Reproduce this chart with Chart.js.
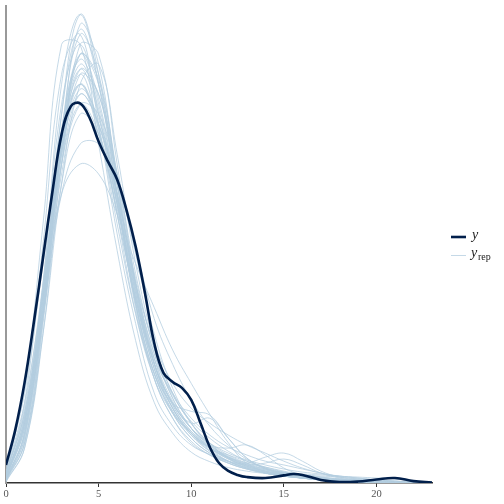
<!DOCTYPE html>
<html>
<head>
<meta charset="utf-8">
<script src="https://cdn.jsdelivr.net/npm/chart.js@4"></script>
<style>
  html, body { margin: 0; padding: 0; background: #fff; }
  canvas { display: block; }
</style>
</head>
<body>
<canvas id="dens" width="504" height="504"></canvas>
<script>
// observed data density (y)
const yX = [0, 0.5, 1, 1.5, 2, 2.5, 3, 3.5, 4, 4.5, 5, 5.5, 6, 6.5, 7, 7.5, 8, 8.5, 9, 9.5, 10, 10.5, 11, 11.5, 12, 12.5, 13, 14, 15, 15.5, 16, 17, 18, 19, 20, 21, 22, 23];
const yDens = [0.0076, 0.0224, 0.0422, 0.0675, 0.0950, 0.1224, 0.1469, 0.1587, 0.1600, 0.1541, 0.1439, 0.1355, 0.1279, 0.1152, 0.0996, 0.0802, 0.0591, 0.0464, 0.0426, 0.0401, 0.0350, 0.0253, 0.0152, 0.0084, 0.0051, 0.0034, 0.0025, 0.0021, 0.0032, 0.0038, 0.0034, 0.0013, 0.0004, 0.0006, 0.0015, 0.0021, 0.0008, 0.0002];

// replicated draws (yrep), all on the same grid
const repX = [0, 1, 2, 3, 4, 5, 6, 7, 8, 9, 10, 11, 12, 13, 14, 15, 16, 17, 18, 19, 20, 21, 22, 23];
const rep01 = [.0021, .0252, .0840, .1680, .1974, .1680, .1218, .0756, .0462, .0294, .0189, .0126, .0084, .0059, .0042, .0029, .0021, .0013, .0008, .0006, .0004, .0002, .0001, .0000];
const rep02 = [.0050, .0336, .0798, .1218, .1344, .1302, .1134, .0924, .0740, .0560, .0420, .0290, .0170, .0084, .0059, .0042, .0029, .0021, .0013, .0008, .0006, .0004, .0002, .0001];
const rep03 = [.0013, .0189, .0714, .1470, .1890, .1722, .1302, .0840, .0504, .0315, .0210, .0139, .0092, .0063, .0042, .0029, .0021, .0013, .0008, .0004, .0002, .0001, .0001, .0000];
const rep04 = [.0017, .0168, .0630, .1260, .1680, .1764, .1386, .0924, .0588, .0378, .0252, .0168, .0105, .0071, .0050, .0034, .0021, .0013, .0008, .0004, .0004, .0002, .0001, .0000];
const rep05 = [.0025, .0273, .0756, .1386, .1680, .1512, .1176, .0798, .0504, .0336, .0252, .0273, .0189, .0105, .0063, .0042, .0025, .0017, .0008, .0004, .0004, .0002, .0001, .0000];
const rep06 = [.0042, .0294, .0798, .1344, .1596, .1470, .1134, .0777, .0525, .0378, .0273, .0202, .0151, .0118, .0092, .0076, .0059, .0042, .0029, .0021, .0013, .0008, .0004, .0002];
const rep07 = [.0008, .0210, .0840, .1596, .1848, .1554, .1134, .0714, .0441, .0294, .0210, .0147, .0105, .0076, .0050, .0034, .0021, .0013, .0008, .0004, .0002, .0001, .0001, .0000];
const rep08 = [.0063, .0378, .0924, .1470, .1680, .1470, .1155, .0819, .0546, .0357, .0231, .0147, .0092, .0063, .0046, .0038, .0034, .0025, .0017, .0008, .0004, .0002, .0001, .0000];
const rep09 = [.0021, .0231, .0735, .1386, .1806, .1680, .1260, .0798, .0483, .0315, .0210, .0147, .0109, .0084, .0067, .0050, .0034, .0021, .0013, .0008, .0006, .0004, .0002, .0001];
const rep10 = [.0029, .0252, .0777, .1449, .1743, .1554, .1176, .0777, .0483, .0315, .0210, .0134, .0092, .0076, .0084, .0101, .0076, .0042, .0021, .0008, .0004, .0002, .0001, .0000];
const rep11 = [.0004, .0147, .0672, .1428, .1932, .1764, .1260, .0756, .0441, .0273, .0168, .0118, .0084, .0059, .0042, .0029, .0021, .0017, .0013, .0008, .0004, .0002, .0001, .0000];
const rep12 = [.0038, .0315, .0840, .1407, .1638, .1512, .1218, .0861, .0567, .0378, .0252, .0168, .0118, .0084, .0059, .0042, .0034, .0029, .0025, .0017, .0013, .0008, .0004, .0002];
const rep13 = [.0017, .0210, .0714, .1344, .1722, .1638, .1302, .0882, .0567, .0357, .0231, .0151, .0101, .0067, .0046, .0034, .0021, .0013, .0008, .0004, .0002, .0001, .0001, .0000];
const rep14 = [.0034, .0336, .1008, .1722, .1890, .1512, .1050, .0672, .0380, .0240, .0160, .0120, .0090, .0067, .0046, .0034, .0025, .0017, .0013, .0008, .0004, .0002, .0001, .0000];
const rep15 = [.0025, .0231, .0714, .1302, .1596, .1554, .1302, .0966, .0630, .0399, .0252, .0160, .0105, .0071, .0050, .0038, .0029, .0021, .0017, .0013, .0008, .0006, .0004, .0002];
const rep16 = [.0013, .0189, .0777, .1554, .1911, .1680, .1218, .0777, .0483, .0302, .0202, .0147, .0118, .0092, .0067, .0046, .0029, .0017, .0008, .0004, .0002, .0001, .0001, .0000];
const rep17 = [.0046, .0294, .0798, .1386, .1659, .1533, .1218, .0840, .0546, .0370, .0260, .0189, .0134, .0092, .0063, .0046, .0038, .0034, .0029, .0021, .0013, .0008, .0004, .0002];
const rep18 = [.0008, .0168, .0693, .1428, .1806, .1701, .1281, .0819, .0504, .0328, .0218, .0147, .0101, .0071, .0050, .0034, .0021, .0013, .0008, .0006, .0004, .0002, .0001, .0000];
const rep19 = [.0021, .0252, .0756, .1344, .1638, .1512, .1218, .0840, .0525, .0328, .0218, .0160, .0147, .0160, .0118, .0063, .0034, .0017, .0008, .0004, .0002, .0001, .0001, .0000];
const rep20 = [.0029, .0273, .0819, .1491, .1785, .1596, .1197, .0798, .0504, .0336, .0231, .0160, .0109, .0076, .0055, .0042, .0034, .0025, .0017, .0013, .0008, .0006, .0004, .0002];
const rep21 = [.0042, .0399, .1092, .1848, .1848, .1428, .0980, .0600, .0340, .0210, .0130, .0090, .0065, .0050, .0040, .0030, .0021, .0013, .0008, .0004, .0002, .0001, .0001, .0000];
const rep22 = [.0025, .0231, .0693, .1260, .1554, .1470, .1176, .0840, .0588, .0420, .0315, .0252, .0202, .0160, .0126, .0092, .0063, .0042, .0025, .0017, .0008, .0004, .0002, .0001];
const rep23 = [.0017, .0210, .0756, .1449, .1764, .1575, .1176, .0756, .0462, .0294, .0189, .0126, .0092, .0084, .0109, .0126, .0092, .0050, .0025, .0013, .0006, .0004, .0002, .0001];
const rep24 = [.0008, .0147, .0630, .1344, .1848, .1806, .1344, .0840, .0504, .0315, .0202, .0134, .0092, .0063, .0042, .0029, .0021, .0013, .0008, .0004, .0002, .0001, .0001, .0000];
const rep25 = [.0034, .0252, .0714, .1218, .1428, .1428, .1260, .0987, .0693, .0500, .0350, .0240, .0160, .0100, .0063, .0042, .0029, .0021, .0013, .0008, .0004, .0002, .0001, .0000];
const rep26 = [.0021, .0252, .0777, .1428, .1722, .1491, .1092, .0714, .0462, .0336, .0302, .0286, .0189, .0105, .0059, .0038, .0025, .0017, .0008, .0004, .0002, .0001, .0001, .0000];
const rep27 = [.0013, .0168, .0714, .1554, .1974, .1722, .1218, .0735, .0441, .0273, .0176, .0118, .0084, .0059, .0042, .0029, .0021, .0017, .0013, .0008, .0004, .0002, .0001, .0000];
const rep28 = [.0038, .0294, .0819, .1428, .1680, .1491, .1134, .0777, .0504, .0336, .0231, .0168, .0126, .0097, .0076, .0059, .0046, .0038, .0029, .0025, .0021, .0017, .0008, .0004];
const rep29 = [.0029, .0273, .0798, .1470, .1806, .1617, .1197, .0756, .0462, .0302, .0210, .0151, .0109, .0076, .0050, .0034, .0025, .0017, .0013, .0008, .0004, .0002, .0001, .0000];
const rep30 = [.0017, .0202, .0735, .1407, .1743, .1638, .1260, .0819, .0525, .0344, .0231, .0160, .0113, .0080, .0055, .0038, .0025, .0017, .0013, .0008, .0006, .0004, .0002, .0001];
const repDraws = [rep01, rep02, rep03, rep04, rep05, rep06, rep07, rep08, rep09, rep10,
                  rep11, rep12, rep13, rep14, rep15, rep16, rep17, rep18, rep19, rep20,
                  rep21, rep22, rep23, rep24, rep25, rep26, rep27, rep28, rep29, rep30];

const xTicks = [0, 5, 10, 15, 20];

const Y_COLOR = '#011f4b';
const YREP_COLOR = 'rgba(179, 205, 224, 0.85)';
const SERIF = '"Liberation Serif", "DejaVu Serif", serif';

const toPoints = (xs, ys) => xs.map((x, i) => ({ x: x, y: ys[i] }));

const datasets = [{
    label: 'y',
    data: toPoints(yX, yDens),
    borderColor: Y_COLOR,
    borderWidth: 2.6,
    pointRadius: 0,
    tension: 0.4,
    fill: false
}];
repDraws.forEach((d, i) => {
    datasets.push({
        label: 'yrep' + (i + 1),
        data: toPoints(repX, d),
        borderColor: YREP_COLOR,
        borderWidth: 0.9,
        pointRadius: 0,
        tension: 0.4,
        fill: false
    });
});

// legend with subscript text, drawn after the chart
const legendPlugin = {
    id: 'densLegend',
    afterDraw(chart) {
        const ctx = chart.ctx;
        ctx.save();
        ctx.lineCap = 'butt';
        ctx.strokeStyle = Y_COLOR;
        ctx.lineWidth = 2.6;
        ctx.beginPath();
        ctx.moveTo(451, 237);
        ctx.lineTo(466, 237);
        ctx.stroke();

        ctx.strokeStyle = YREP_COLOR;
        ctx.lineWidth = 0.9;
        ctx.beginPath();
        ctx.moveTo(451, 255.5);
        ctx.lineTo(466, 255.5);
        ctx.stroke();

        ctx.fillStyle = '#222';
        ctx.textBaseline = 'alphabetic';
        ctx.font = 'italic 14px ' + SERIF;
        ctx.fillText('y', 472, 239);
        ctx.fillText('y', 471, 257);
        ctx.font = '10px ' + SERIF;
        ctx.fillText('rep', 478, 260);
        ctx.restore();
    }
};

new Chart(document.getElementById('dens'), {
    type: 'line',
    data: { datasets: datasets },
    options: {
        responsive: false,
        animation: false,
        layout: { padding: { left: 6, top: 6, right: 72, bottom: 0 } },
        plugins: {
            legend: { display: false },
            tooltip: { enabled: false }
        },
        scales: {
            x: {
                type: 'linear',
                min: 0,
                max: 23,
                afterBuildTicks: (scale) => { scale.ticks = xTicks.map(v => ({ value: v })); },
                afterFit: (scale) => { scale.height = 21; },
                grid: { display: true, drawOnChartArea: false, drawTicks: true, tickLength: 4, color: '#333', lineWidth: 1 },
                border: { display: true, color: '#333', width: 1.5 },
                ticks: {
                    autoSkip: false,
                    maxRotation: 0,
                    padding: 1,
                    color: '#555',
                    font: { family: SERIF, size: 10.5 }
                }
            },
            y: {
                min: 0,
                max: 0.201,
                afterFit: (scale) => { scale.width = 0; },
                grid: { display: false },
                border: { display: true, color: '#999', width: 2 },
                ticks: { display: false }
            }
        }
    },
    plugins: [legendPlugin]
});
</script>
</body>
</html>
